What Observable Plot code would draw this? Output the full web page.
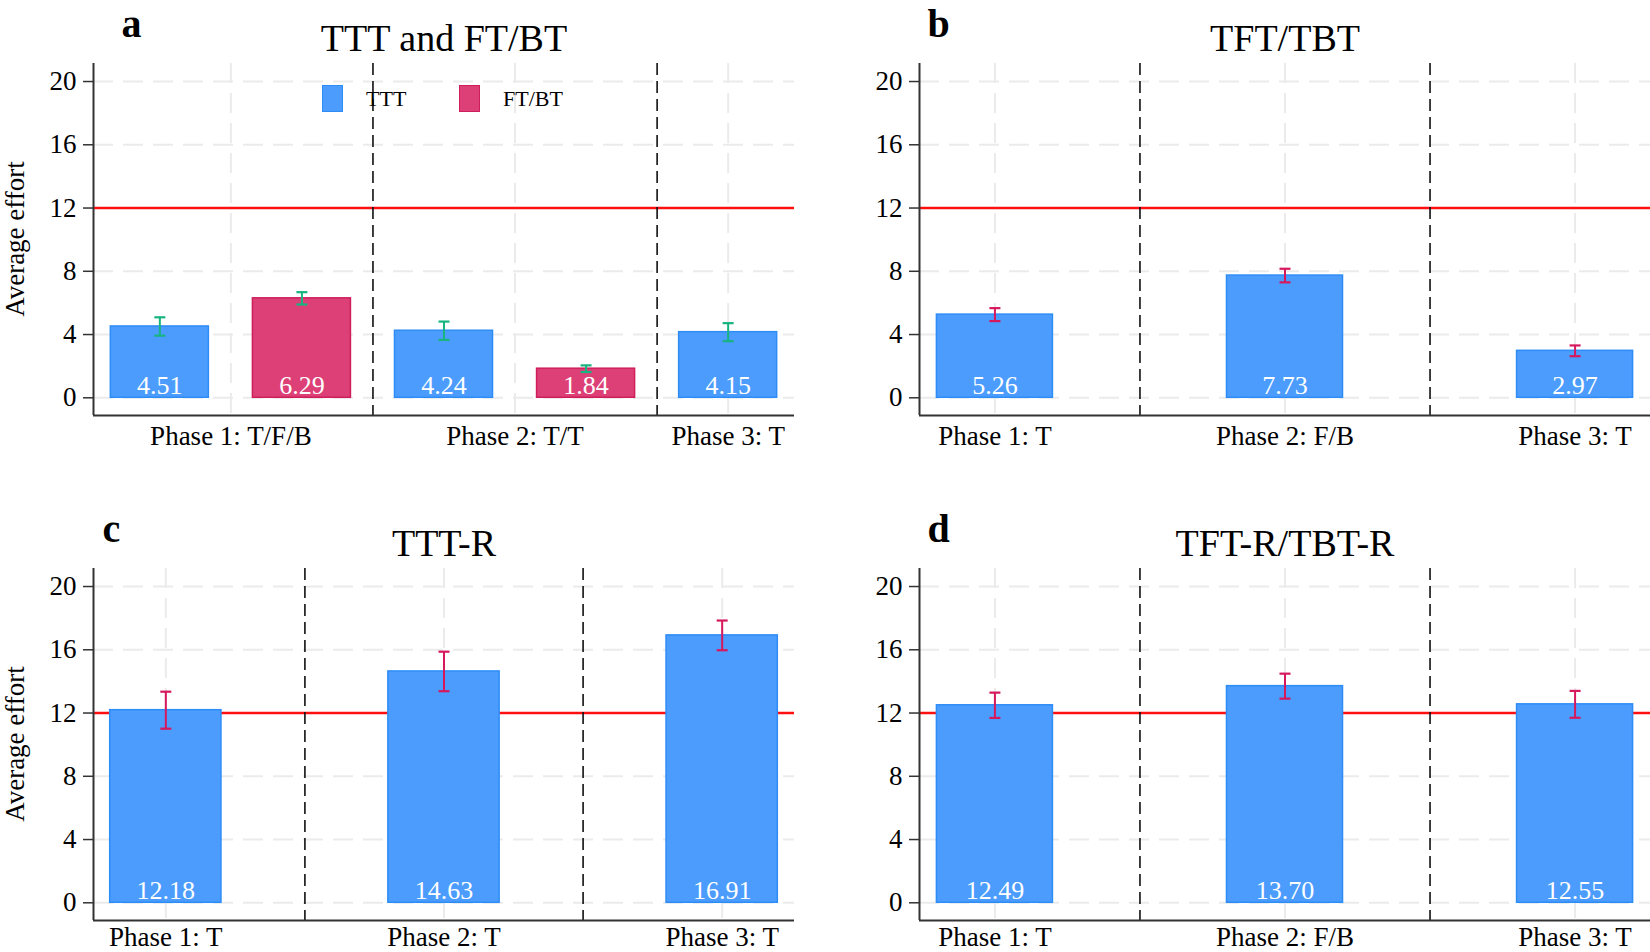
<!DOCTYPE html>
<html>
<head>
<meta charset="utf-8">
<script src="https://cdn.jsdelivr.net/npm/d3@7"></script>
<script src="https://cdn.jsdelivr.net/npm/@observablehq/plot@0.6"></script>
<style>
  html, body { margin: 0; padding: 0; background: #fff; }
  #root { position: relative; width: 1650px; height: 952px; overflow: hidden;
          font-family: "Liberation Serif", "Times New Roman", serif; background: #fff; }
  .panel { position: absolute; }
  .legend { position: absolute; display: flex; align-items: center; }
  .legend-item { display: flex; align-items: center; width: 137px; }
  .legend-swatch { width: 19px; height: 25px; box-sizing: content-box; }
  .legend-label { margin-left: 23px; font-size: 22px; color: #000; }
  .ylab { position: absolute; width: 300px; margin-left: -150px; text-align: center;
          font-size: 27px; line-height: 30px; margin-top: -15px; color: #000;
          transform: rotate(-90deg); white-space: nowrap; }
</style>
</head>
<body>
<div id="root"></div>
<script>
// ---------------- data ----------------
const panelLetters = ["a", "b", "c", "d"];
const panelTitles = ["TTT and FT/BT", "TFT/TBT", "TTT-R", "TFT-R/TBT-R"];

const aGroups = ["TTT", "FT/BT", "TTT", "FT/BT", "TTT"];
const aPhases = ["Phase 1: T/F/B", "Phase 1: T/F/B", "Phase 2: T/T", "Phase 2: T/T", "Phase 3: T"];
const aValues = [4.51, 6.29, 4.24, 1.84, 4.15];
const aErrors = [0.58, 0.39, 0.58, 0.21, 0.57];

const bGroups = ["TTT", "TTT", "TTT"];
const bPhases = ["Phase 1: T", "Phase 2: F/B", "Phase 3: T"];
const bValues = [5.26, 7.73, 2.97];
const bErrors = [0.41, 0.43, 0.34];

const cGroups = ["TTT", "TTT", "TTT"];
const cPhases = ["Phase 1: T", "Phase 2: T", "Phase 3: T"];
const cValues = [12.18, 14.63, 16.91];
const cErrors = [1.17, 1.25, 0.94];

const dGroups = ["TTT", "TTT", "TTT"];
const dPhases = ["Phase 1: T", "Phase 2: F/B", "Phase 3: T"];
const dValues = [12.49, 13.70, 12.55];
const dErrors = [0.80, 0.79, 0.85];

const yTicks = [0, 4, 8, 12, 16, 20];
const threshold = 12;
const legendGroups = ["TTT", "FT/BT"];
const yLabel = "Average effort";

// ---------------- styles ----------------
const groupFill = { "TTT": "#4B9CFD", "FT/BT": "#DC4076" };
const groupStroke = { "TTT": "#2E8CF6", "FT/BT": "#CF1F5B" };
const FONT = '"Liberation Serif", "Times New Roman", serif';

const panels = [
  { letter: panelLetters[0], title: panelTitles[0], groups: aGroups, phases: aPhases, values: aValues, errors: aErrors,
    left: 0, top: 0, mL: 93, mR: 31, mT: 63, mB: 61, pad: 0.467, hw: 0.345, err: "#16B47F", letterDx: 28, ylab: true, xPad: 10 },
  { letter: panelLetters[1], title: panelTitles[1], groups: bGroups, phases: bPhases, values: bValues, errors: bErrors,
    left: 825, top: 0, mL: 94, mR: 0, mT: 63, mB: 61, pad: 0.26, hw: 0.2, err: "#D6185D", letterDx: 8, ylab: false, xPad: 10 },
  { letter: panelLetters[2], title: panelTitles[2], groups: cGroups, phases: cPhases, values: cValues, errors: cErrors,
    left: 0, top: 476, mL: 93, mR: 31, mT: 92, mB: 32, pad: 0.26, hw: 0.2, err: "#D6185D", letterDx: 9, ylab: true, xPad: 6 },
  { letter: panelLetters[3], title: panelTitles[3], groups: dGroups, phases: dPhases, values: dValues, errors: dErrors,
    left: 825, top: 476, mL: 94, mR: 0, mT: 92, mB: 32, pad: 0.26, hw: 0.2, err: "#D6185D", letterDx: 8, ylab: false, xPad: 6 }
];

const capSymbol = { draw(ctx) { ctx.moveTo(-5.5, 0); ctx.lineTo(5.5, 0); } };
const root = document.getElementById("root");

function drawPanel(p) {
  const rows = p.values.map((v, i) => ({ pos: i + 1, value: v, err: p.errors[i], group: p.groups[i], phase: p.phases[i] }));
  const n = rows.length;
  const phaseNames = [...new Set(p.phases)];
  const phaseTicks = phaseNames.map(ph => d3.mean(rows.filter(r => r.phase === ph), r => r.pos));
  const tickLabel = new Map(phaseTicks.map((t, i) => [t, phaseNames[i]]));
  const seps = [];
  for (let i = 1; i < n; i++) if (rows[i].phase !== rows[i - 1].phase) seps.push((rows[i].pos + rows[i - 1].pos) / 2);
  const caps = rows.flatMap(d => [{ pos: d.pos, y: d.value + d.err }, { pos: d.pos, y: d.value - d.err }]);
  const xDomain = [1 - p.pad, n + p.pad];
  const yDomain = [-1.12, 21.14];

  const marks = [
    Plot.gridY(yTicks, { stroke: "#ebebeb", strokeOpacity: 1, strokeWidth: 2, strokeDasharray: "20,10" }),
    Plot.gridX(phaseTicks, { stroke: "#ebebeb", strokeOpacity: 1, strokeWidth: 2, strokeDasharray: "20,10" }),
    Plot.ruleY([threshold], { stroke: "#FF1010", strokeWidth: 2.5 }),
    Plot.ruleX(seps, { stroke: "#111", strokeWidth: 1.6, strokeDasharray: "12,6" }),
    Plot.rect(rows, { x1: d => d.pos - p.hw, x2: d => d.pos + p.hw, y1: 0, y2: "value",
      fill: d => groupFill[d.group], stroke: d => groupStroke[d.group], strokeWidth: 1.5 }),
    Plot.text(rows, { x: "pos", y: 0, text: d => d.value.toFixed(2), dy: -4, lineAnchor: "bottom",
      fill: "white", fontSize: 26, fontFamily: FONT }),
    Plot.ruleX(rows, { x: "pos", y1: d => d.value - d.err, y2: d => d.value + d.err, stroke: p.err, strokeWidth: 2 }),
    Plot.dot(caps, { x: "pos", y: "y", symbol: capSymbol, stroke: p.err, strokeWidth: 2.2, fill: "none", r: 5 }),
    Plot.ruleX([xDomain[0]], { stroke: "#333", strokeWidth: 2 }),
    Plot.ruleY([yDomain[0]], { stroke: "#333", strokeWidth: 2 }),
    Plot.axisY(yTicks, { tickSize: 10, tickPadding: 7, label: null, stroke: "#333", strokeWidth: 1.5,
      fontFamily: FONT, fontVariant: "normal" }),
    Plot.axisX(phaseTicks, { tickSize: 0, tickPadding: p.xPad, label: null, tickFormat: d => tickLabel.get(d),
      fontFamily: FONT }),
    Plot.text([p.title], { text: d => d, frameAnchor: "top", dy: -12.5, lineAnchor: "bottom", fontSize: 38, fontFamily: FONT }),
    Plot.text([p.letter], { text: d => d, frameAnchor: "top-left", dx: p.letterDx, dy: -27, lineAnchor: "bottom",
      textAnchor: "start", fontSize: 40, fontWeight: "bold", fontFamily: FONT })
  ];

  const chart = Plot.plot({
    width: 825, height: 476,
    marginLeft: p.mL, marginRight: p.mR, marginTop: p.mT, marginBottom: p.mB,
    x: { type: "linear", domain: xDomain, label: null },
    y: { type: "linear", domain: yDomain, label: null },
    style: { fontFamily: FONT, fontSize: "27px", color: "#000", background: "transparent", overflow: "visible" },
    marks
  });
  const wrap = document.createElement("div");
  wrap.className = "panel";
  wrap.style.left = p.left + "px";
  wrap.style.top = p.top + "px";
  wrap.appendChild(chart);
  root.appendChild(wrap);

  if (p.ylab) {
    const yl = document.createElement("div");
    yl.className = "ylab";
    yl.textContent = yLabel;
    yl.style.left = (p.left + 15) + "px";
    yl.style.top = (p.top + p.mT + (476 - p.mT - p.mB) / 2) + "px";
    root.appendChild(yl);
  }
}

panels.forEach(drawPanel);

// legend for panel a
const legend = document.createElement("div");
legend.className = "legend";
legend.style.left = "322px";
legend.style.top = "85px";
legendGroups.forEach(g => {
  const item = document.createElement("div");
  item.className = "legend-item";
  const sw = document.createElement("div");
  sw.className = "legend-swatch";
  sw.style.background = groupFill[g];
  sw.style.border = "1.5px solid " + groupStroke[g];
  const lb = document.createElement("div");
  lb.className = "legend-label";
  lb.textContent = g;
  item.appendChild(sw);
  item.appendChild(lb);
  legend.appendChild(item);
});
root.appendChild(legend);
</script>
</body>
</html>
